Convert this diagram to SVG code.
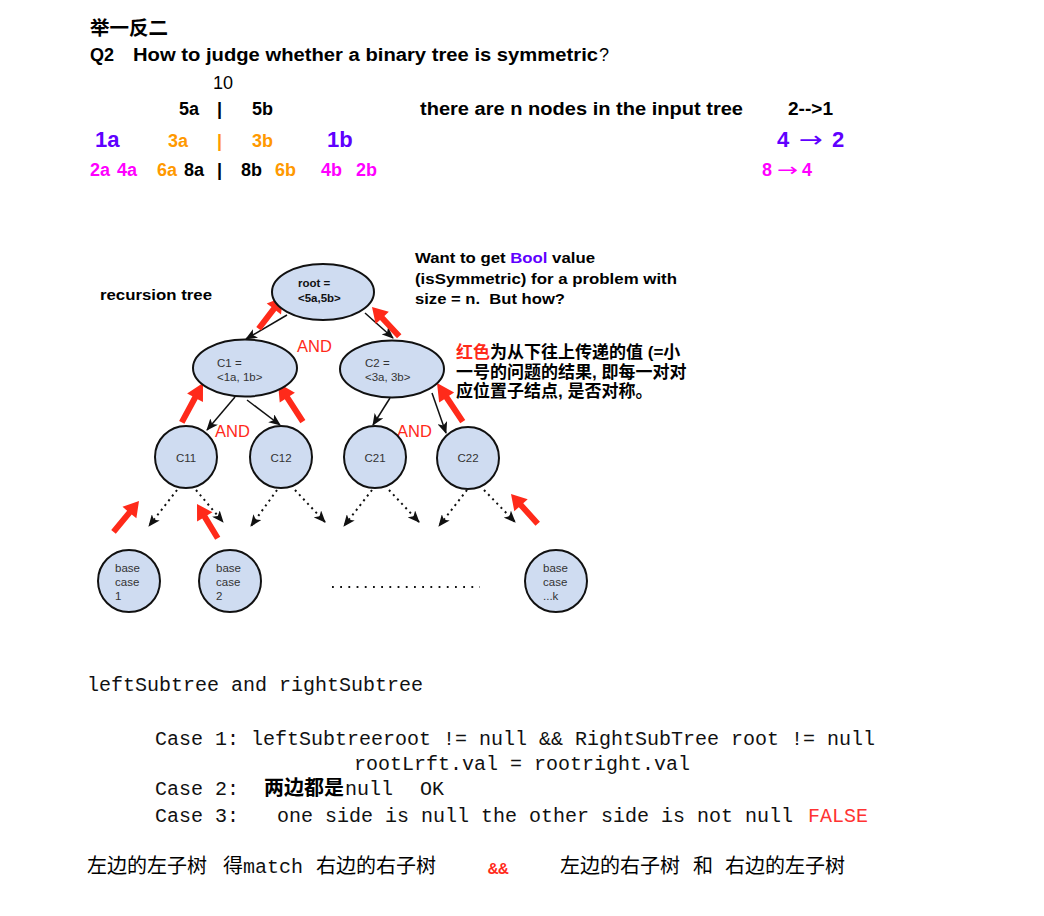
<svg xmlns="http://www.w3.org/2000/svg" width="1044" height="916" viewBox="0 0 1044 916">
<style>
 .b{font-family:"Liberation Sans","Noto Sans CJK SC",sans-serif;font-weight:bold;fill:#000}
 .r{font-family:"Liberation Sans","Noto Sans CJK SC",sans-serif;fill:#000}
 .m{font-family:"Liberation Mono","Noto Sans CJK SC",monospace;font-size:20px;fill:#111}
 .cj{font-family:"Noto Sans CJK SC",sans-serif;font-size:20px;fill:#000}
 .ar{font-family:"DejaVu Sans",sans-serif;font-weight:normal}
 .node{fill:#cfdcf1;stroke:#111;stroke-width:2}
 .nt{font-family:"Liberation Sans",sans-serif;font-size:11.5px;fill:#333}
 .edge{stroke:#111;stroke-width:1.5;fill:none;marker-end:url(#ah)}
 .dot{stroke:#111;stroke-width:2;fill:none;stroke-dasharray:2 4;marker-end:url(#ah)}
 .and{font-family:"Liberation Sans",sans-serif;font-size:16.5px;fill:#ff2a1a}
 .red{fill:#ff2a1a}
 .pu{fill:#6000ff}
 .or{fill:#ff9900}
 .mg{fill:#ff00ff}
</style>
<defs>
 <marker id="ah" markerUnits="userSpaceOnUse" markerWidth="12" markerHeight="10" refX="11" refY="5" orient="auto">
  <path d="M0,0 L12,5 L0,10 L3,5 Z" fill="#111"/>
 </marker>
 <path id="ra" d="M-40,-3 L-15,-3 L-15,-9 L0,0 L-15,9 L-15,3 L-40,3 Z"/>
</defs>

<!-- header texts -->
<text x="90" y="35" class="b" font-size="19.5">举一反二</text>
<text x="90" y="61" class="b" font-size="18">Q2</text>
<text x="133" y="61" class="b" font-size="18" textLength="465" lengthAdjust="spacingAndGlyphs">How to judge whether a binary tree is symmetric</text>
<text x="599" y="61" class="r" font-size="18">?</text>
<text x="213" y="89" class="r" font-size="18">10</text>
<text y="115" class="b" font-size="18"><tspan x="179">5a</tspan><tspan x="217">|</tspan><tspan x="252">5b</tspan></text>
<text x="420" y="115" class="b" font-size="18" textLength="323" lengthAdjust="spacingAndGlyphs">there are n nodes in the input tree</text>
<text x="788" y="115" class="b" font-size="18" textLength="45" lengthAdjust="spacingAndGlyphs">2--&gt;1</text>
<text y="147" class="b pu" font-size="22"><tspan x="95">1a</tspan><tspan x="327">1b</tspan></text>
<text y="147" class="b or" font-size="18"><tspan x="168">3a</tspan><tspan x="217">|</tspan><tspan x="252">3b</tspan></text>
<text y="147" class="b pu" font-size="22"><tspan x="777">4</tspan><tspan x="832">2</tspan></text>
<text x="799" y="147" class="ar pu" font-size="22" textLength="24" lengthAdjust="spacingAndGlyphs">→</text>
<text y="176" class="b" font-size="18"><tspan x="90" class="mg">2a</tspan><tspan x="117" class="mg">4a</tspan><tspan x="157" class="or">6a</tspan><tspan x="184">8a</tspan><tspan x="217">|</tspan><tspan x="241">8b</tspan><tspan x="275" class="or">6b</tspan><tspan x="321" class="mg">4b</tspan><tspan x="356" class="mg">2b</tspan></text>
<text y="176" class="b mg" font-size="18"><tspan x="762">8</tspan><tspan x="802">4</tspan></text>
<text x="777" y="176" class="ar mg" font-size="18" textLength="21" lengthAdjust="spacingAndGlyphs">→</text>

<!-- annotations -->
<text x="100" y="300" class="b" font-size="15.5" fill="#222" textLength="112" lengthAdjust="spacingAndGlyphs">recursion tree</text>
<text x="415" y="263" class="b" font-size="15.5" fill="#222" textLength="180" lengthAdjust="spacingAndGlyphs">Want to get <tspan class="pu">Bool</tspan> value</text>
<text x="415" y="283.5" class="b" font-size="15.5" fill="#222" textLength="262" lengthAdjust="spacingAndGlyphs">(isSymmetric) for a problem with</text>
<text x="415" y="304" class="b" font-size="15.5" fill="#222" textLength="150" lengthAdjust="spacingAndGlyphs" xml:space="preserve">size = n.  But how?</text>
<text class="b" font-size="17" fill="#222"><tspan x="456" y="358"><tspan class="red">红色</tspan>为从下往上传递的值 (=小</tspan><tspan x="456" y="377.5">一号的问题的结果, 即每一对对</tspan><tspan x="456" y="397">应位置子结点, 是否对称。</tspan></text>

<!-- connectors -->
<g id="connectors">
 <line class="edge" x1="287" y1="315" x2="246" y2="339"/>
 <line class="edge" x1="365" y1="313" x2="393" y2="338"/>
 <line class="edge" x1="235" y1="397" x2="207" y2="430"/>
 <line class="edge" x1="247" y1="400" x2="280" y2="425"/>
 <line class="edge" x1="390" y1="398" x2="373" y2="425"/>
 <line class="edge" x1="432" y1="393" x2="446" y2="433"/>
 <line class="dot" x1="177" y1="490" x2="149" y2="526"/>
 <line class="dot" x1="196" y1="490" x2="223" y2="522"/>
 <line class="dot" x1="277" y1="490" x2="251" y2="526"/>
 <line class="dot" x1="295" y1="490" x2="325" y2="522"/>
 <line class="dot" x1="372" y1="490" x2="344" y2="526"/>
 <line class="dot" x1="389" y1="490" x2="419" y2="522"/>
 <line class="dot" x1="467" y1="490" x2="439" y2="526"/>
 <line class="dot" x1="484" y1="490" x2="515" y2="522"/>
 <line x1="332" y1="587" x2="480" y2="587" stroke="#111" stroke-width="1.8" stroke-dasharray="1.8 6.4"/>
 <g class="red">
  <use href="#ra" transform="translate(283,297) rotate(-52.5)"/>
  <use href="#ra" transform="translate(372,307) rotate(-132.9)"/>
  <use href="#ra" transform="translate(203,383) rotate(-61.7) scale(1.12,1)"/>
  <use href="#ra" transform="translate(278,383) rotate(-122.7) scale(1.15,1)"/>
  <use href="#ra" transform="translate(437,383) rotate(-123.7) scale(1.16,1)"/>
  <use href="#ra" transform="translate(139,501) rotate(-50.4)"/>
  <use href="#ra" transform="translate(197,504) rotate(-121.2)"/>
  <use href="#ra" transform="translate(511,494) rotate(-131.9)"/>
 </g>
 <text x="297" y="352" class="and">AND</text>
 <text x="215" y="437" class="and">AND</text>
 <text x="397" y="437" class="and">AND</text>
</g>

<!-- nodes -->
<g id="root">
 <ellipse class="node" cx="323" cy="292" rx="51" ry="28"/>
 <text class="nt" style="fill:#111;font-weight:bold;font-size:11.5px"><tspan x="298" y="287">root =</tspan><tspan x="298" y="302">&lt;5a,5b&gt;</tspan></text>
</g>
<g id="c1">
 <ellipse class="node" cx="245" cy="368" rx="52" ry="28.5"/>
 <text class="nt"><tspan x="217" y="367">C1 =</tspan><tspan x="217" y="381">&lt;1a, 1b&gt;</tspan></text>
</g>
<g id="c2">
 <ellipse class="node" cx="392" cy="369" rx="52" ry="28.5"/>
 <text class="nt"><tspan x="365" y="367">C2 =</tspan><tspan x="365" y="381">&lt;3a, 3b&gt;</tspan></text>
</g>
<g id="c11">
 <circle class="node" cx="186" cy="457" r="31"/>
 <text class="nt" x="186" y="462" text-anchor="middle">C11</text>
</g>
<g id="c12">
 <circle class="node" cx="281" cy="457" r="31"/>
 <text class="nt" x="281" y="462" text-anchor="middle">C12</text>
</g>
<g id="c21">
 <circle class="node" cx="375" cy="457" r="31"/>
 <text class="nt" x="375" y="462" text-anchor="middle">C21</text>
</g>
<g id="c22">
 <circle class="node" cx="468" cy="458" r="31"/>
 <text class="nt" x="468" y="462" text-anchor="middle">C22</text>
</g>
<g id="base1">
 <circle class="node" cx="129" cy="581" r="31"/>
 <text class="nt"><tspan x="115" y="572">base</tspan><tspan x="115" y="586">case</tspan><tspan x="115" y="600">1</tspan></text>
</g>
<g id="base2">
 <circle class="node" cx="230" cy="581" r="31"/>
 <text class="nt"><tspan x="216" y="572">base</tspan><tspan x="216" y="586">case</tspan><tspan x="216" y="600">2</tspan></text>
</g>
<g id="basek">
 <circle class="node" cx="556" cy="581" r="31"/>
 <text class="nt"><tspan x="543" y="572">base</tspan><tspan x="543" y="586">case</tspan><tspan x="543" y="600">...k</tspan></text>
</g>

<!-- code section -->
<text x="87" y="691" class="m">leftSubtree and rightSubtree</text>
<text x="155" y="745" class="m" xml:space="preserve">Case 1: leftSubtreeroot != null &amp;&amp; RightSubTree root != null</text>
<text x="354" y="770" class="m">rootLrft.val = rootright.val</text>
<text x="155" y="795" class="m">Case 2:</text>
<text x="264" y="795" class="cj" font-weight="bold">两边都是</text>
<text x="345" y="795" class="m">null</text>
<text x="420" y="795" class="m">OK</text>
<text x="155" y="822" class="m">Case 3:</text>
<text x="277" y="822" class="m">one side is null the other side is not null</text>
<text x="808" y="822" class="m" style="fill:#ff3333">FALSE</text>

<text x="87" y="873" class="cj">左边的左子树</text>
<text x="223" y="873" class="cj">得</text>
<text x="243" y="873" class="m">match</text>
<text x="316" y="873" class="cj">右边的右子树</text>
<text x="488" y="874" class="m" style="fill:#ff2a1a;font-size:17px;font-weight:bold">&amp;&amp;</text>
<text x="560" y="873" class="cj">左边的右子树</text>
<text x="693" y="873" class="cj">和</text>
<text x="725" y="873" class="cj">右边的左子树</text>
</svg>
